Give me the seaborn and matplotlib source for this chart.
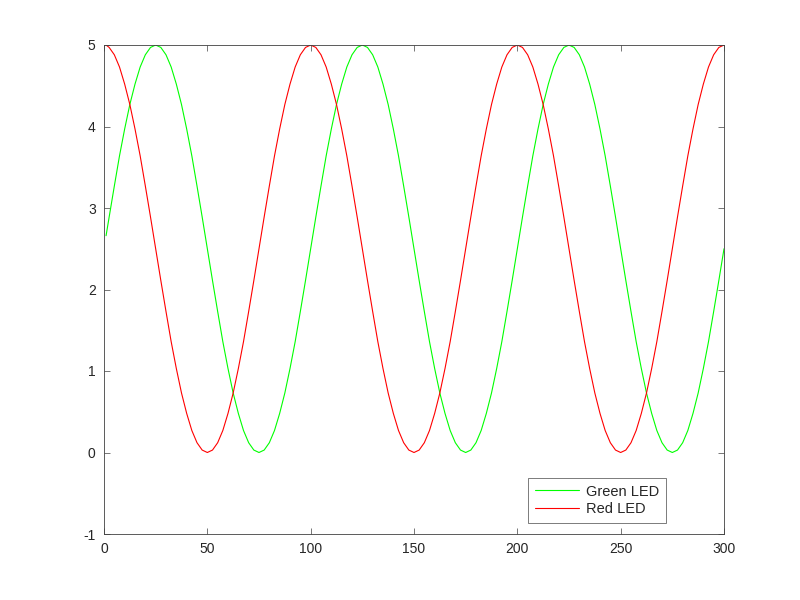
import pandas as pd
import matplotlib
matplotlib.use("Agg")
import matplotlib.pyplot as plt
import seaborn as sns

# sample positions
x_vals = [1, 2.5, 5, 7.5, 10, 12.5, 15, 17.5, 20, 22.5, 25, 27.5, 30, 32.5, 35, 37.5, 40, 42.5, 45, 47.5,
          50, 52.5, 55, 57.5, 60, 62.5, 65, 67.5, 70, 72.5, 75, 77.5, 80, 82.5, 85, 87.5, 90, 92.5, 95, 97.5,
          100, 102.5, 105, 107.5, 110, 112.5, 115, 117.5, 120, 122.5, 125, 127.5, 130, 132.5, 135, 137.5, 140, 142.5, 145, 147.5,
          150, 152.5, 155, 157.5, 160, 162.5, 165, 167.5, 170, 172.5, 175, 177.5, 180, 182.5, 185, 187.5, 190, 192.5, 195, 197.5,
          200, 202.5, 205, 207.5, 210, 212.5, 215, 217.5, 220, 222.5, 225, 227.5, 230, 232.5, 235, 237.5, 240, 242.5, 245, 247.5,
          250, 252.5, 255, 257.5, 260, 262.5, 265, 267.5, 270, 272.5, 275, 277.5, 280, 282.5, 285, 287.5, 290, 292.5, 295, 297.5,
          300]

green_led = [2.66, 2.89, 3.27, 3.64, 3.97, 4.27, 4.52, 4.73, 4.88, 4.97, 5.00, 4.97, 4.88, 4.73, 4.52, 4.27, 3.97, 3.64, 3.27, 2.89,
             2.50, 2.11, 1.73, 1.36, 1.03, 0.73, 0.48, 0.27, 0.12, 0.03, 0.00, 0.03, 0.12, 0.27, 0.48, 0.73, 1.03, 1.36, 1.73, 2.11,
             2.50, 2.89, 3.27, 3.64, 3.97, 4.27, 4.52, 4.73, 4.88, 4.97, 5.00, 4.97, 4.88, 4.73, 4.52, 4.27, 3.97, 3.64, 3.27, 2.89,
             2.50, 2.11, 1.73, 1.36, 1.03, 0.73, 0.48, 0.27, 0.12, 0.03, 0.00, 0.03, 0.12, 0.27, 0.48, 0.73, 1.03, 1.36, 1.73, 2.11,
             2.50, 2.89, 3.27, 3.64, 3.97, 4.27, 4.52, 4.73, 4.88, 4.97, 5.00, 4.97, 4.88, 4.73, 4.52, 4.27, 3.97, 3.64, 3.27, 2.89,
             2.50, 2.11, 1.73, 1.36, 1.03, 0.73, 0.48, 0.27, 0.12, 0.03, 0.00, 0.03, 0.12, 0.27, 0.48, 0.73, 1.03, 1.36, 1.73, 2.11,
             2.50]

red_led = [5.00, 4.97, 4.88, 4.73, 4.52, 4.27, 3.97, 3.64, 3.27, 2.89, 2.50, 2.11, 1.73, 1.36, 1.03, 0.73, 0.48, 0.27, 0.12, 0.03,
           0.00, 0.03, 0.12, 0.27, 0.48, 0.73, 1.03, 1.36, 1.73, 2.11, 2.50, 2.89, 3.27, 3.64, 3.97, 4.27, 4.52, 4.73, 4.88, 4.97,
           5.00, 4.97, 4.88, 4.73, 4.52, 4.27, 3.97, 3.64, 3.27, 2.89, 2.50, 2.11, 1.73, 1.36, 1.03, 0.73, 0.48, 0.27, 0.12, 0.03,
           0.00, 0.03, 0.12, 0.27, 0.48, 0.73, 1.03, 1.36, 1.73, 2.11, 2.50, 2.89, 3.27, 3.64, 3.97, 4.27, 4.52, 4.73, 4.88, 4.97,
           5.00, 4.97, 4.88, 4.73, 4.52, 4.27, 3.97, 3.64, 3.27, 2.89, 2.50, 2.11, 1.73, 1.36, 1.03, 0.73, 0.48, 0.27, 0.12, 0.03,
           0.00, 0.03, 0.12, 0.27, 0.48, 0.73, 1.03, 1.36, 1.73, 2.11, 2.50, 2.89, 3.27, 3.64, 3.97, 4.27, 4.52, 4.73, 4.88, 4.97,
           5.00]

x_ticks = [0, 50, 100, 150, 200, 250, 300]
y_ticks = [-1, 0, 1, 2, 3, 4, 5]

sns.set_style("ticks")
plt.rcParams['font.family'] = ['Liberation Sans', 'DejaVu Sans']
plt.rcParams['axes.unicode_minus'] = False

df = pd.DataFrame({
    'x': x_vals * 2,
    'y': green_led + red_led,
    'series': ['Green LED'] * len(x_vals) + ['Red LED'] * len(x_vals),
})

fig = plt.figure(figsize=(8, 6), dpi=100)
ax = fig.add_axes([0.13, 0.11, 0.775, 0.815])

sns.lineplot(data=df, x='x', y='y', hue='series',
             palette={'Green LED': '#00ff00', 'Red LED': '#ff0000'},
             linewidth=0.8, ax=ax, estimator=None, sort=False)

ax.set_xlim(0, 300)
ax.set_ylim(-1, 5)
ax.set_xticks(x_ticks)
ax.set_yticks(y_ticks)
ax.set_xlabel("")
ax.set_ylabel("")
ax.tick_params(direction='in', top=True, right=True, labelsize=10,
               length=4, width=0.5, color='#404040', pad=6)
for sp in ax.spines.values():
    sp.set_linewidth(0.6)
    sp.set_color('#404040')
    sp.set_visible(True)

leg = ax.legend(loc='lower right', bbox_to_anchor=(0.918, 0.008), fontsize=10.5,
                frameon=True, fancybox=False, handlelength=3.0,
                borderpad=0.45, labelspacing=0.25, handletextpad=0.5)
leg.get_frame().set_edgecolor('#404040')
leg.get_frame().set_linewidth(0.6)

fig.savefig("out.png", dpi=100, facecolor='white')
